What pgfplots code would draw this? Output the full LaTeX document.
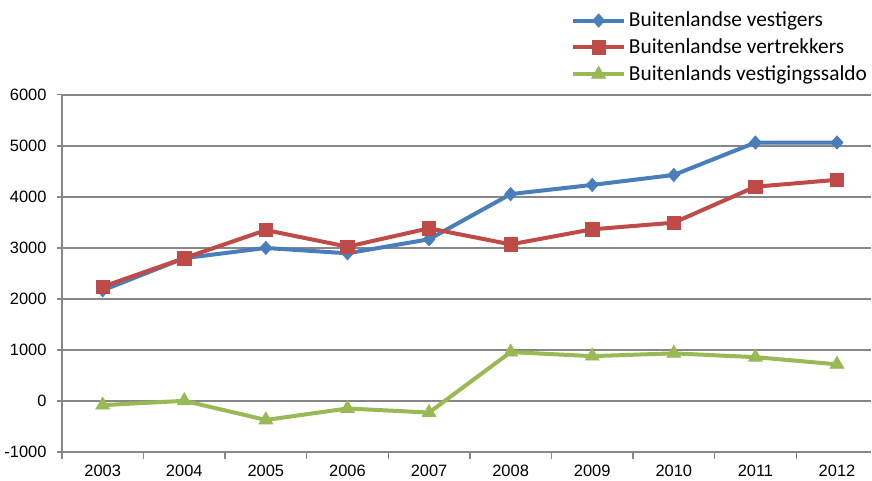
\documentclass[border=0pt]{standalone}
\usepackage{fontspec}
\setmainfont{Liberation Sans}
\newfontfamily\calibri{Carlito}
\usepackage{pgfplots}
\pgfplotsset{compat=1.18}
\definecolor{cblue}{HTML}{4A7EBB}
\definecolor{cred}{HTML}{BE4B48}
\definecolor{cgreen}{HTML}{98B954}
\definecolor{cgrid}{HTML}{878787}
\begin{document}
\begin{tikzpicture}
\begin{axis}[
  scale only axis,
  width=606pt, height=267.5pt,
  xmin=-0.5, xmax=9.42,
  ymin=-1000, ymax=6000,
  ytick={-1000,0,...,6000},
  xtick={0,...,9},
  xticklabels={2003,2004,2005,2006,2007,2008,2009,2010,2011,2012},
  minor xtick={-0.5,0.5,...,9.5},
  major x tick style={draw=none},
  minor x tick style={cgrid, line width=1pt},
  minor tick length=5pt,
  major tick length=4pt,
  tick align=outside,
  y tick style={cgrid, line width=1pt},
  axis x line*=bottom,
  axis y line*=left,
  axis line style={cgrid, line width=1pt, -},
  ymajorgrids,
  grid style={cgrid, line width=1.1pt},
  scaled ticks=false,
  /pgf/number format/1000 sep={},
  /pgf/number format/assume math mode=true,
  tick label style={font=\fontsize{12.3}{15}\selectfont},
  xticklabel style={yshift=-2pt},
  yticklabel style={xshift=-4pt},
  clip=false,
  legend style={at={(1.0,1.022)}, anchor=south east, draw=none, fill=none,
    font=\calibri\fontsize{16}{19}\selectfont, row sep=3.5pt,
    inner sep=1pt, cells={anchor=west}},
  legend image code/.code={
    \draw[#1] (0cm,0cm) -- (1.35cm,0cm);
    \draw[#1, mark repeat=1] plot coordinates {(0.675cm,0cm)};
  },
]
\addplot[cblue, line width=3pt, mark=diamond*, mark size=5pt, mark options={solid, fill=cblue, line width=0.5pt, xscale=1.2}]
  coordinates {(0,2170) (1,2800) (2,3000) (3,2895) (4,3170) (5,4055) (6,4235) (7,4430) (8,5065) (9,5065)};
\addlegendentry{Buitenlandse vestigers}
\addplot[cred, line width=3pt, mark=square*, mark size=5pt, mark options={solid, fill=cred, line width=0.5pt}]
  coordinates {(0,2240) (1,2800) (2,3350) (3,3025) (4,3385) (5,3070) (6,3365) (7,3495) (8,4200) (9,4335)};
\addlegendentry{Buitenlandse vertrekkers}
\addplot[cgreen, line width=3pt, mark=triangle*, mark size=6pt, mark options={solid, fill=cgreen, line width=0.5pt}]
  coordinates {(0,-80) (1,5) (2,-370) (3,-145) (4,-225) (5,960) (6,880) (7,935) (8,860) (9,720)};
\addlegendentry{Buitenlands vestigingssaldo}
\end{axis}
\path (current axis.north) ++(0,71pt);
\path (current axis.south) ++(0,-21pt);
\end{tikzpicture}
\end{document}
